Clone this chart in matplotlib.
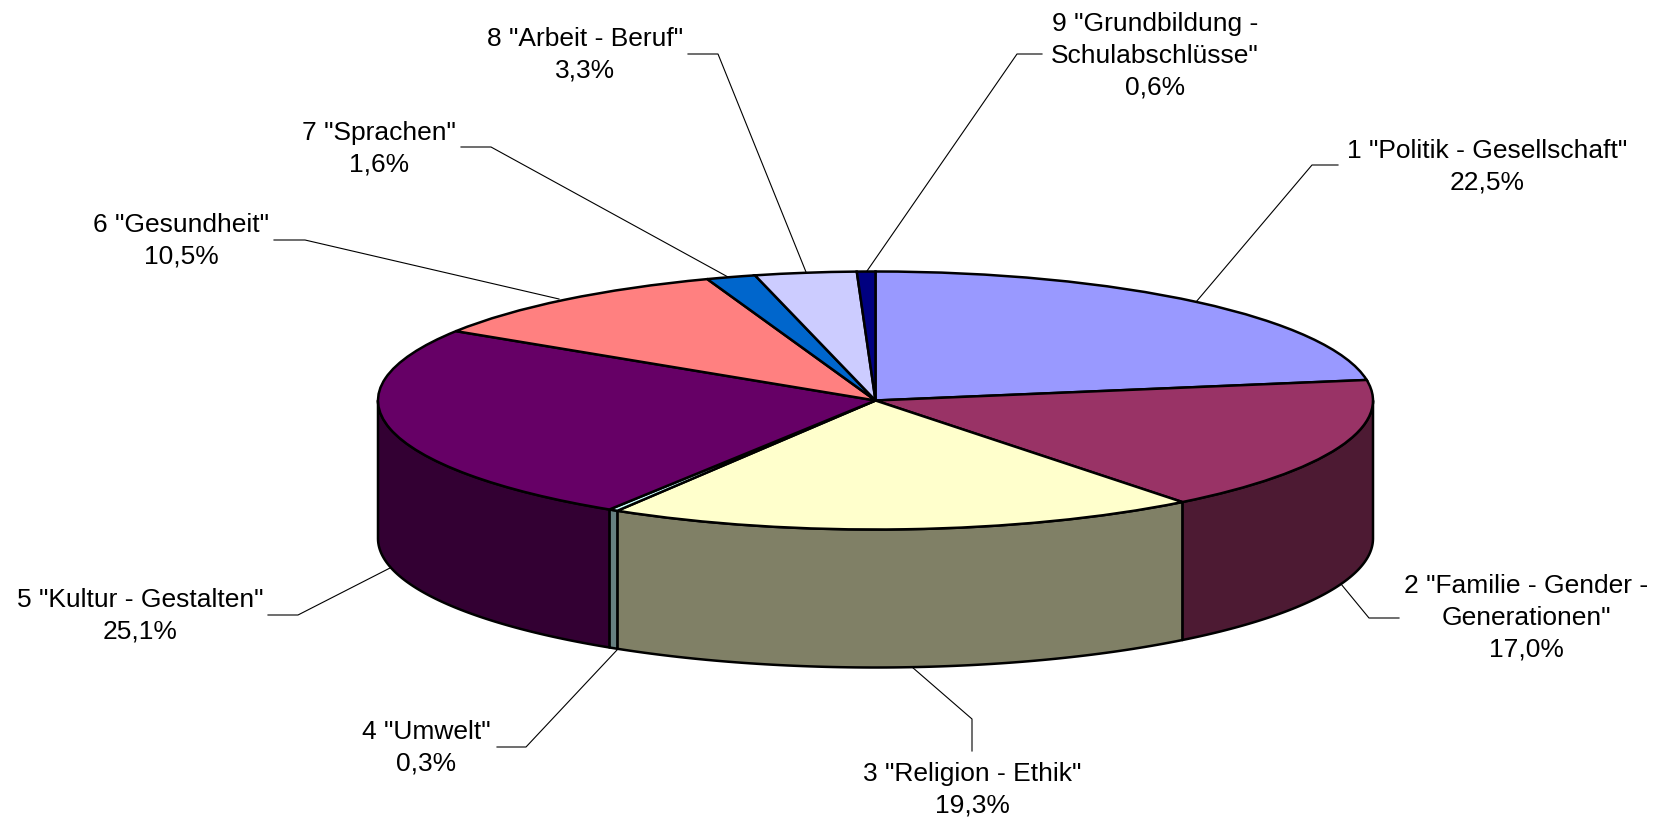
import numpy as np
import matplotlib
matplotlib.use("Agg")
import matplotlib.pyplot as plt

plt.rcParams["font.family"] = ["Liberation Sans", "DejaVu Sans"]

names = [
    '1 "Politik - Gesellschaft"',
    '2 "Familie - Gender -\nGenerationen"',
    '3 "Religion - Ethik"',
    '4 "Umwelt"',
    '5 "Kultur - Gestalten"',
    '6 "Gesundheit"',
    '7 "Sprachen"',
    '8 "Arbeit - Beruf"',
    '9 "Grundbildung -\nSchulabschlüsse"',
]
shares = [22.5, 17.0, 19.3, 0.3, 25.1, 10.5, 1.6, 3.3, 0.6]
top_colors = ["#9999FF", "#993366", "#FFFFCC", "#CCFFFF", "#660066",
              "#FF8080", "#0066CC", "#CCCCFF", "#000080"]
side_colors = ["#4D4D80", "#4D1A33", "#808066", "#668080", "#330033",
               "#804040", "#003366", "#666680", "#000040"]

# layout in image pixels
W, H = 1659, 822
CX, CY, RX, RY, DEPTH = 875.5, 400.5, 497.5, 129, 138
label_pos = [(1487, 167), (1526, 618), (972, 790), (426, 748), (140, 616),
             (181, 241), (379, 149), (585, 55), (1155, 56)]
leaders = [
    [(1338, 165), (1312, 165), (1196, 302)],
    [(1399, 618), (1369, 618), (1341, 584)],
    [(972, 751), (972, 719), (912, 667)],
    [(497, 747), (526, 747), (617, 650)],
    [(268, 615), (298, 615), (390, 568)],
    [(274, 240), (305, 240), (559, 299)],
    [(461, 147), (491, 147), (728, 277)],
    [(688, 54), (718, 54), (806, 272)],
    [(1042, 54), (1017, 54), (867, 271)],
]


def to_data(x, y):
    return (x - CX) / RX, (CY - y) / RY


fig = plt.figure(figsize=(W / 100, H / 100), dpi=100)
ax = fig.add_axes([0, 0, 1, 1])

wedges, _ = ax.pie(shares, colors=top_colors, startangle=90, counterclock=False,
                   radius=1, wedgeprops={"edgecolor": "black", "linewidth": 1.8, "zorder": 3})
ax.set_aspect("auto")
ax.set_xlim(-CX / RX, (W - CX) / RX)
ax.set_ylim((CY - H) / RY, CY / RY)

# the wall below the front half of the disc
drop = DEPTH / RY
for w, col in zip(wedges, side_colors):
    a = max(w.theta1, -180)
    b = min(w.theta2, 0)
    if b <= a:
        continue
    t = np.radians(np.linspace(a, b, 80))
    xs = np.concatenate([np.cos(t), np.cos(t[::-1])])
    ys = np.concatenate([np.sin(t), np.sin(t[::-1]) - drop])
    ax.fill(xs, ys, facecolor=col, edgecolor="black", linewidth=1.8,
            joinstyle="round", zorder=2)

for name, share, (x, y), pts in zip(names, shares, label_pos, leaders):
    lx, ly = to_data(x, y)
    txt = name + "\n" + f"{share:.1f}".replace(".", ",") + "%"
    ax.text(lx, ly, txt, ha="center", va="center", fontsize=19,
            linespacing=1.4, color="black", zorder=5)
    p = np.array([to_data(*q) for q in pts])
    ax.plot(p[:, 0], p[:, 1], color="black", linewidth=0.8, zorder=1)

fig.savefig("out.png", dpi=100, facecolor="white")
